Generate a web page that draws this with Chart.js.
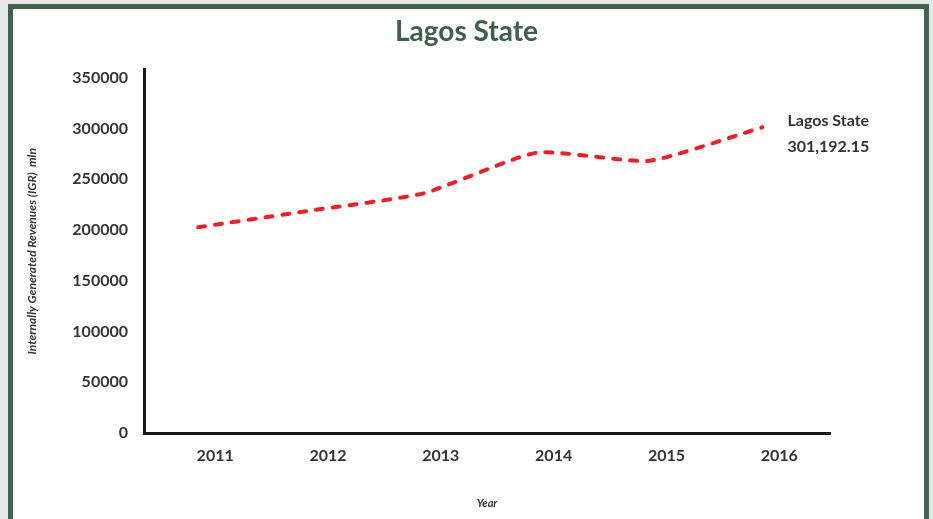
<!DOCTYPE html>
<html>
<head>
<meta charset="utf-8">
<title>Lagos State IGR</title>
<script src="https://cdn.jsdelivr.net/npm/chart.js@4/dist/chart.umd.min.js"></script>
<style>
  html, body { margin: 0; padding: 0; background: #e6e7e8; overflow: hidden; }
  #frame {
    position: absolute; left: 8px; top: 4px; width: 911px; height: 600px;
    border: 5px solid #41624d; background: #fff;
  }
  #igrChart { position: absolute; left: 0; top: 0; }
</style>
</head>
<body>
<div id="frame"></div>
<canvas id="igrChart" width="933" height="519"></canvas>
<script>
const years = [2011, 2012, 2013, 2014, 2015, 2016];
const igrValues = [202758, 219201, 236160, 276163, 268224, 301192.15];
const yTicks = [0, 50000, 100000, 150000, 200000, 250000, 300000, 350000];
const seriesName = 'Lagos State';

const FONT = 'Lato, "Open Sans", sans-serif';
const TEXT = '#333333';

// label at the end of the line: series name and last value
const endLabel = {
    id: 'endLabel',
    afterDatasetsDraw(chart) {
        const meta = chart.getDatasetMeta(0);
        const last = meta.data[meta.data.length - 1];
        const value = igrValues[igrValues.length - 1];
        const ctx = chart.ctx;
        ctx.save();
        ctx.font = 'bold 16px ' + FONT;
        ctx.fillStyle = TEXT;
        ctx.textAlign = 'center';
        ctx.textBaseline = 'middle';
        ctx.fillText(seriesName, last.x + 66, last.y - 6);
        ctx.fillText(value.toLocaleString('en-US', { minimumFractionDigits: 2 }), last.x + 66, last.y + 20);
        ctx.restore();
    }
};

const ctx = document.getElementById('igrChart').getContext('2d');

new Chart(ctx, {
    type: 'line',
    data: {
        datasets: [{
            label: seriesName,
            data: years.map((y, i) => ({ x: y, y: igrValues[i] })),
            borderColor: '#ee1f26',
            borderWidth: 4,
            borderDash: [7, 10],
            borderCapStyle: 'round',
            pointRadius: 0,
            tension: 0.18,
            fill: false
        }]
    },
    options: {
        responsive: false,
        animation: false,
        devicePixelRatio: 1,
        plugins: {
            legend: { display: false },
            tooltip: { enabled: false },
            title: {
                display: true,
                text: 'Lagos State',
                color: '#3e604b',
                font: { family: FONT, size: 28, weight: 'bold' },
                padding: { top: 15, bottom: 21 }
            }
        },
        scales: {
            x: {
                type: 'linear',
                min: 2010.52,
                max: 2016.6,
                afterBuildTicks: s => { s.ticks = years.map(v => ({ value: v })); },
                afterFit: s => { s.height = 86; },
                grid: { display: false, drawTicks: false },
                border: { display: true, color: '#1a1a1a', width: 3 },
                ticks: {
                    color: TEXT,
                    font: { family: FONT, size: 16, weight: 'bold' },
                    padding: 13,
                    labelOffset: 17,
                    maxRotation: 0,
                    callback: v => String(v)
                },
                title: {
                    display: true,
                    text: 'Year',
                    color: TEXT,
                    font: { family: FONT, size: 11, style: 'italic', weight: 'bold' },
                    padding: { top: 0, bottom: 9 }
                }
            },
            y: {
                min: 0,
                max: 358000,
                afterBuildTicks: s => { s.ticks = yTicks.map(v => ({ value: v })); },
                afterFit: s => { s.width = 144; },
                grid: { display: false, drawTicks: false },
                border: { display: true, color: '#1a1a1a', width: 3 },
                ticks: {
                    color: TEXT,
                    font: { family: FONT, size: 16, weight: 'bold' },
                    padding: 16,
                    callback: v => String(v)
                },
                title: {
                    display: true,
                    text: 'Internally Generated Revenues (IGR)  mln',
                    color: TEXT,
                    font: { family: FONT, size: 12, style: 'italic', weight: 'bold' },
                    padding: { top: 25, bottom: 0 }
                }
            },
            // empty right-hand gutter that holds the end label
            gutter: {
                position: 'right',
                afterFit: s => { s.width = 103; },
                grid: { display: false, drawTicks: false },
                border: { display: false },
                ticks: { display: false }
            }
        }
    },
    plugins: [endLabel]
});
</script>
</body>
</html>
